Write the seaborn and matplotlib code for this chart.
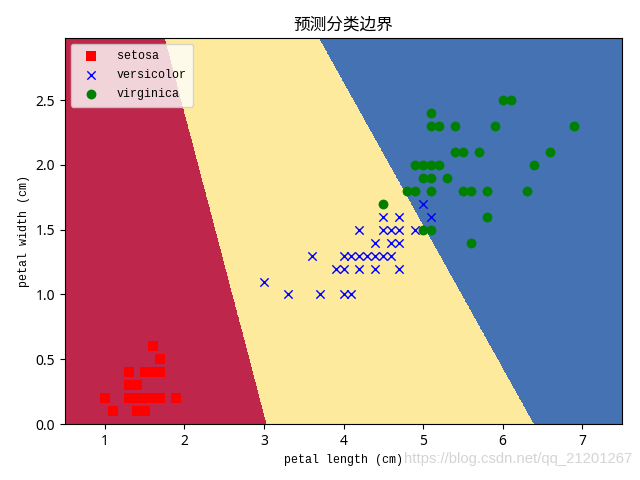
import numpy as np
import pandas as pd
import seaborn as sns
import matplotlib.pyplot as plt

plt.rcParams['font.family'] = ['Liberation Mono', 'Noto Sans CJK SC']

# points
setosa_len = [1.6, 1.7, 1.3, 1.5, 1.6, 1.7, 1.3, 1.4, 1.0, 1.3, 1.4, 1.5, 1.6, 1.7, 1.9, 1.1, 1.4, 1.5]
setosa_wid = [0.6, 0.5, 0.4, 0.4, 0.4, 0.4, 0.3, 0.3, 0.2, 0.2, 0.2, 0.2, 0.2, 0.2, 0.2, 0.1, 0.1, 0.1]
versi_len = [5.0, 4.5, 4.7, 5.1, 4.2, 4.5, 4.6, 4.7, 4.9, 4.4, 4.6, 4.7, 3.6, 4.0, 4.1, 4.2, 4.3, 4.4, 4.5, 4.6,
             3.9, 4.0, 4.2, 4.4, 4.7, 3.0, 3.3, 3.7, 4.0, 4.1]
versi_wid = [1.7, 1.6, 1.6, 1.6, 1.5, 1.5, 1.5, 1.5, 1.5, 1.4, 1.4, 1.4, 1.3, 1.3, 1.3, 1.3, 1.3, 1.3, 1.3, 1.3,
             1.2, 1.2, 1.2, 1.2, 1.2, 1.1, 1.0, 1.0, 1.0, 1.0]
virgin_len = [6.0, 6.1, 5.1, 5.1, 5.2, 5.4, 5.9, 6.9, 5.4, 5.5, 5.7, 6.6, 4.9, 5.0, 5.1, 5.2, 6.4, 5.0, 5.1, 5.3,
              4.8, 4.9, 5.1, 5.5, 5.6, 5.8, 6.3, 4.5, 5.8, 5.0, 5.1, 5.6]
virgin_wid = [2.5, 2.5, 2.4, 2.3, 2.3, 2.3, 2.3, 2.3, 2.1, 2.1, 2.1, 2.1, 2.0, 2.0, 2.0, 2.0, 2.0, 1.9, 1.9, 1.9,
              1.8, 1.8, 1.8, 1.8, 1.8, 1.8, 1.8, 1.7, 1.6, 1.5, 1.5, 1.4]

# where the two class borders cross the top and bottom of the plot
border_a = (1.76, 3.04)
border_b = (3.70, 6.40)
y_top = 2.98

region_colors = ['#be264b', '#feea9c', '#4472b2']

setosa = pd.DataFrame({'x': setosa_len, 'y': setosa_wid})
versi = pd.DataFrame({'x': versi_len, 'y': versi_wid})
virgin = pd.DataFrame({'x': virgin_len, 'y': virgin_wid})

fig, ax = plt.subplots(figsize=(6.4, 4.8), dpi=100)
fig.subplots_adjust(left=65 / 640, right=622 / 640, top=1 - 38 / 480, bottom=1 - 424 / 480)

# decision regions on a grid
xx, yy = np.meshgrid(np.arange(0.5, 7.51, 0.005), np.arange(0, 3, 0.005))
line_a = border_a[1] + (border_a[0] - border_a[1]) * yy / y_top
line_b = border_b[1] + (border_b[0] - border_b[1]) * yy / y_top
zz = (xx > line_a).astype(int) + (xx > line_b).astype(int)
ax.contourf(xx, yy, zz, levels=[-0.5, 0.5, 1.5, 2.5], colors=region_colors)

sns.scatterplot(data=setosa, x='x', y='y', color='red', marker='s', s=42, linewidth=0, label='setosa', ax=ax)
sns.scatterplot(data=versi, x='x', y='y', color='blue', marker='x', s=36, linewidth=1, label='versicolor', ax=ax)
sns.scatterplot(data=virgin, x='x', y='y', color='green', marker='o', s=50, linewidth=0, label='virginica', ax=ax)

ax.set_xlim(0.5, 7.5)
ax.set_ylim(0, y_top)
ax.set_xlabel('petal length (cm)', fontsize=8.4)
ax.set_ylabel('petal width (cm)', fontsize=8.4)
ax.set_title('预测分类边界', fontsize=12, family=['Noto Sans CJK SC', 'Liberation Mono'])
ax.tick_params(labelsize=10)
for lab in ax.get_xticklabels() + ax.get_yticklabels():
    lab.set_family('Noto Sans')
ax.legend(loc='upper left', prop={'size': 8.4}, handlelength=2.4, handletextpad=1.0, labelspacing=0.6,
          borderpad=0.55)

fig.text(0.988, 0.043, 'https://blog.csdn.net/qq_21201267', color='#d4d4d4', fontsize=10.7, ha='right', va='center',
         family=['Liberation Sans'])

fig.savefig('out.png', dpi=100)
